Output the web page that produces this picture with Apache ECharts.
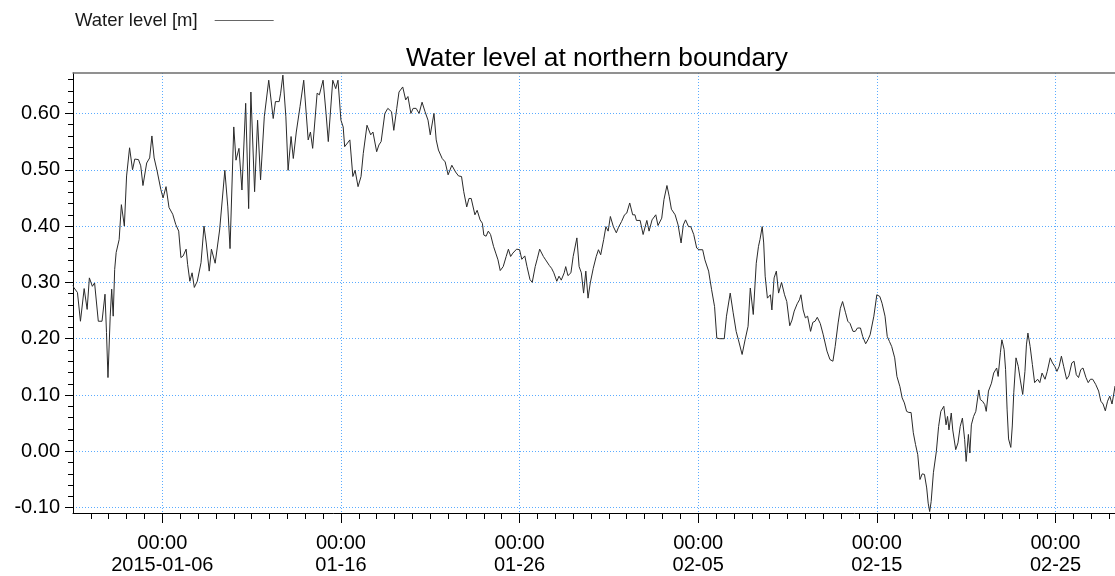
<!DOCTYPE html>
<html>
<head>
<meta charset="utf-8">
<title>Water level at northern boundary</title>
<script src="https://cdn.jsdelivr.net/npm/echarts@6/dist/echarts.min.js"></script>
<style>
  html, body { margin: 0; padding: 0; background: #ffffff; }
  #chart { width: 1115px; height: 576px; }
</style>
</head>
<body>
<div id="chart"></div>
<script>
// Hours since 2015-01-01 00:00 (local time) for each reading
const sampleHours = [
  0, 1, 6, 10, 15, 19, 22, 26, 29, 34,
  39, 43, 45, 47, 50, 52, 54, 56, 58, 62,
  65, 69, 72, 76, 80, 83, 88, 91, 94, 99,
  103, 106, 109, 113, 118, 121, 125, 129, 134, 138,
  142, 145, 148, 152, 154, 157, 160, 163, 167, 172,
  176, 179, 183, 186, 191, 197, 204, 208, 211, 216,
  219, 223, 227, 232, 236, 239, 244, 248, 252, 257,
  263, 269, 272, 277, 279, 282, 286, 289, 293, 296,
  300, 305, 310, 316, 319, 322, 328, 331, 336, 340,
  343, 349, 353, 356, 360, 363, 365, 372, 376, 379,
  383, 387, 390, 395, 400, 403, 408, 411, 414, 419,
  423, 428, 431, 435, 438, 440, 443, 447, 450, 454,
  457, 461, 465, 469, 473, 477, 480, 485, 488, 491,
  496, 500, 504, 509, 514, 518, 522, 525, 529, 532,
  535, 540, 543, 547, 550, 552, 555, 558, 561, 565,
  568, 571, 574, 578, 582, 585, 588, 591, 596, 600,
  603, 607, 610, 614, 617, 621, 624, 627, 632, 635,
  640, 643, 646, 650, 653, 656, 660, 662, 665, 669,
  672, 677, 680, 683, 686, 689, 692, 695, 699, 703,
  706, 709, 713, 716, 719, 722, 726, 730, 733, 737,
  741, 744, 748, 752, 755, 757, 762, 766, 771, 774,
  778, 783, 786, 791, 794, 798, 801, 804, 809, 813,
  817, 820, 823, 827, 830, 834, 838, 841, 846, 849,
  854, 858, 862, 865, 869, 875, 878, 883, 887, 891,
  894, 899, 903, 907, 910, 914, 918, 921, 923, 926,
  928, 930, 933, 937, 939, 942, 945, 948, 952, 956,
  959, 963, 966, 969, 973, 976, 978, 981, 984, 987,
  991, 994, 997, 1000, 1004, 1008, 1013, 1017, 1021, 1024,
  1028, 1031, 1034, 1038, 1041, 1044, 1048, 1051, 1054, 1058,
  1061, 1065, 1068, 1071, 1076, 1080, 1084, 1087, 1091, 1094,
  1097, 1100, 1104, 1107, 1111, 1114, 1117, 1120, 1123, 1126,
  1129, 1132, 1135, 1138, 1141, 1144, 1147, 1149, 1151, 1153,
  1156, 1160, 1163, 1166, 1170, 1173, 1175, 1177, 1180, 1182,
  1186, 1189, 1192, 1195, 1198, 1200, 1203, 1205, 1207, 1210,
  1213, 1217, 1219, 1222, 1225, 1227, 1230, 1234, 1237, 1241,
  1243, 1246, 1248, 1251, 1253, 1255, 1257, 1260, 1262, 1264,
  1267, 1270, 1273, 1276, 1279, 1281, 1283, 1286, 1289, 1292,
  1296, 1299, 1302, 1306, 1309, 1313, 1316, 1319, 1322, 1325,
  1328, 1331, 1335, 1338, 1342, 1345, 1348, 1351, 1354, 1357,
  1361, 1364, 1367, 1370, 1374, 1378, 1381, 1384, 1387, 1390,
  1393, 1396, 1399, 1400
];

// Water level [m] at each reading
const waterLevel = [
  0.295, 0.291, 0.282, 0.231, 0.289, 0.252, 0.308, 0.293, 0.299, 0.231,
  0.231, 0.279, 0.211, 0.131, 0.240, 0.288, 0.240, 0.323, 0.353, 0.376,
  0.438, 0.400, 0.489, 0.539, 0.500, 0.519, 0.518, 0.507, 0.472, 0.512,
  0.521, 0.560, 0.521, 0.498, 0.465, 0.450, 0.470, 0.433, 0.421, 0.403,
  0.391, 0.344, 0.347, 0.359, 0.332, 0.302, 0.317, 0.291, 0.302, 0.335,
  0.400, 0.370, 0.320, 0.359, 0.334, 0.393, 0.499, 0.434, 0.360, 0.576,
  0.517, 0.538, 0.464, 0.618, 0.431, 0.638, 0.461, 0.588, 0.482, 0.594,
  0.659, 0.591, 0.621, 0.621, 0.636, 0.668, 0.594, 0.499, 0.559, 0.520,
  0.567, 0.612, 0.659, 0.553, 0.567, 0.538, 0.636, 0.633, 0.659, 0.600,
  0.550, 0.659, 0.644, 0.659, 0.588, 0.576, 0.541, 0.553, 0.488, 0.499,
  0.470, 0.488, 0.529, 0.579, 0.562, 0.567, 0.532, 0.544, 0.550, 0.600,
  0.609, 0.603, 0.570, 0.609, 0.638, 0.640, 0.647, 0.624, 0.630, 0.600,
  0.609, 0.609, 0.600, 0.620, 0.603, 0.588, 0.562, 0.600, 0.553, 0.535,
  0.520, 0.514, 0.491, 0.508, 0.496, 0.489, 0.488, 0.461, 0.434, 0.449,
  0.449, 0.420, 0.428, 0.411, 0.405, 0.384, 0.382, 0.391, 0.385, 0.364,
  0.352, 0.340, 0.321, 0.328, 0.346, 0.359, 0.346, 0.352, 0.359, 0.358,
  0.341, 0.347, 0.328, 0.305, 0.300, 0.328, 0.343, 0.359, 0.346, 0.340,
  0.330, 0.325, 0.317, 0.302, 0.311, 0.304, 0.317, 0.328, 0.312, 0.317,
  0.346, 0.379, 0.328, 0.317, 0.281, 0.320, 0.272, 0.299, 0.325, 0.346,
  0.358, 0.349, 0.376, 0.399, 0.391, 0.417, 0.399, 0.388, 0.398, 0.408,
  0.420, 0.423, 0.441, 0.420, 0.420, 0.410, 0.410, 0.385, 0.410, 0.391,
  0.411, 0.420, 0.401, 0.414, 0.447, 0.472, 0.453, 0.430, 0.420, 0.402,
  0.370, 0.402, 0.411, 0.399, 0.399, 0.385, 0.361, 0.358, 0.358, 0.340,
  0.320, 0.287, 0.257, 0.201, 0.200, 0.200, 0.240, 0.281, 0.246, 0.213,
  0.198, 0.172, 0.198, 0.222, 0.290, 0.243, 0.334, 0.364, 0.376, 0.399,
  0.370, 0.311, 0.272, 0.278, 0.251, 0.308, 0.320, 0.281, 0.300, 0.278,
  0.266, 0.223, 0.233, 0.249, 0.262, 0.269, 0.278, 0.251, 0.237, 0.240,
  0.213, 0.229, 0.231, 0.238, 0.227, 0.207, 0.178, 0.163, 0.160, 0.186,
  0.228, 0.254, 0.266, 0.246, 0.231, 0.227, 0.213, 0.213, 0.219, 0.219,
  0.204, 0.191, 0.198, 0.207, 0.240, 0.278, 0.275, 0.263, 0.240, 0.204,
  0.195, 0.186, 0.166, 0.133, 0.115, 0.095, 0.086, 0.071, 0.069, 0.069,
  0.033, 0.012, -0.006, -0.050, -0.040, -0.041, -0.065, -0.092, -0.107, -0.089,
  -0.038, 0.000, 0.044, 0.071, 0.080, 0.047, 0.062, 0.038, 0.068, 0.038,
  0.003, 0.015, 0.044, 0.059, 0.021, -0.018, 0.030, -0.003, 0.047, 0.062,
  0.071, 0.109, 0.092, 0.089, 0.083, 0.071, 0.107, 0.121, 0.139, 0.148,
  0.133, 0.175, 0.198, 0.181, 0.145, 0.075, 0.022, 0.007, 0.045, 0.104,
  0.166, 0.151, 0.125, 0.101, 0.142, 0.189, 0.210, 0.186, 0.154, 0.122,
  0.128, 0.122, 0.139, 0.128, 0.142, 0.166, 0.157, 0.151, 0.142, 0.151,
  0.169, 0.151, 0.128, 0.134, 0.157, 0.160, 0.136, 0.131, 0.145, 0.148,
  0.131, 0.122, 0.128, 0.128, 0.119, 0.107, 0.089, 0.084, 0.072, 0.089,
  0.098, 0.084, 0.107, 0.116
];

// Labelled time ticks and value ticks
const majorTickDates = ['2015-01-06', '2015-01-16', '2015-01-26', '2015-02-05', '2015-02-15', '2015-02-25'];
const yTickValues = [-0.1, 0, 0.1, 0.2, 0.3, 0.4, 0.5, 0.6];

const FONT = '"Liberation Sans", Arial, Helvetica, sans-serif';
const HOUR = 3600 * 1000;
const DAY = 24 * HOUR;

const startTime = new Date(2015, 0, 1, 0, 0, 0).getTime();
const times = sampleHours.map(h => startTime + h * HOUR);
const xMin = startTime;
const xMax = times[times.length - 1];
const yMin = -0.1095;
const yMax = 0.6718;

const majorTicks = majorTickDates.map(s => {
  const [y, m, d] = s.split('-').map(Number);
  return new Date(y, m - 1, d).getTime();
});

// one small tick per day, and one per 0.02 m
const dayTicks = [];
for (let d = 1; startTime + d * DAY <= xMax; d++) dayTicks.push(new Date(2015, 0, 1 + d).getTime());
const yMinorTicks = [];
for (let k = -5; k <= 33; k++) yMinorTicks.push(Math.round(k * 2) / 100);

const pad = n => String(n).padStart(2, '0');
function timeLabel(v) {
  const d = new Date(v);
  const hm = pad(d.getHours()) + ':' + pad(d.getMinutes());
  const md = pad(d.getMonth() + 1) + '-' + pad(d.getDate());
  return hm + '\n' + (Math.abs(v - majorTicks[0]) < 1000 ? d.getFullYear() + '-' + md : md);
}

const gridLine = { show: true, lineStyle: { color: '#5aabff', width: 1, type: [1, 2] } };

const chart = echarts.init(document.getElementById('chart'));
chart.setOption({
  animation: false,
  backgroundColor: '#ffffff',
  textStyle: { fontFamily: FONT },
  title: {
    text: 'Water level at northern boundary',
    left: 592,
    top: 41,
    textAlign: 'center',
    textStyle: { fontFamily: FONT, fontSize: 26.3, fontWeight: 'normal', color: '#000' }
  },
  legend: {
    left: 75,
    top: 11,
    padding: 0,
    align: 'right',
    icon: 'rect',
    itemWidth: 59,
    itemHeight: 1,
    itemStyle: { color: '#666', borderWidth: 0 },
    textStyle: { fontFamily: FONT, fontSize: 18.5, color: '#1a1a1a', padding: [0, 12, 0, 0] }
  },
  grid: { left: 73, right: 0, top: 73, bottom: 62, containLabel: false },
  xAxis: [
    {
      type: 'value',
      position: 'bottom',
      min: xMin,
      max: xMax,
      axisLine: { show: true, onZero: false, lineStyle: { color: '#000', width: 1 } },
      axisTick: { show: true, customValues: majorTicks, length: 10, lineStyle: { color: '#000' } },
      axisLabel: {
        customValues: majorTicks,
        formatter: timeLabel,
        fontFamily: FONT,
        fontSize: 20,
        lineHeight: 22,
        color: '#000',
        margin: 19,
        hideOverlap: false
      },
      splitLine: gridLine
    },
    {
      type: 'value',
      position: 'bottom',
      min: xMin,
      max: xMax,
      axisLine: { show: false, onZero: false },
      axisTick: { show: true, customValues: dayTicks, length: 6, lineStyle: { color: '#000' } },
      axisLabel: { show: false },
      splitLine: { show: false }
    },
    {
      type: 'value',
      position: 'top',
      min: xMin,
      max: xMax,
      axisLine: { show: true, onZero: false, lineStyle: { color: '#6e6e6e', width: 1.5 } },
      axisTick: { show: false },
      axisLabel: { show: false },
      splitLine: { show: false }
    }
  ],
  yAxis: [
    {
      type: 'value',
      position: 'left',
      min: yMin,
      max: yMax,
      axisLine: { show: true, onZero: false, lineStyle: { color: '#000', width: 1 } },
      axisTick: { show: true, customValues: yTickValues, length: 8, lineStyle: { color: '#000' } },
      axisLabel: {
        customValues: yTickValues,
        formatter: v => v.toFixed(2),
        fontFamily: FONT,
        fontSize: 20,
        color: '#000',
        margin: 13
      },
      splitLine: gridLine
    },
    {
      type: 'value',
      position: 'left',
      min: yMin,
      max: yMax,
      axisLine: { show: false, onZero: false },
      axisTick: { show: true, customValues: yMinorTicks, length: 5, lineStyle: { color: '#000' } },
      axisLabel: { show: false },
      splitLine: { show: false }
    }
  ],
  series: [
    {
      name: 'Water level [m]',
      type: 'line',
      xAxisIndex: 0,
      yAxisIndex: 0,
      data: times.map((t, i) => [t, waterLevel[i]]),
      showSymbol: false,
      symbol: 'none',
      lineStyle: { color: '#2a2a2a', width: 1 },
      itemStyle: { color: '#2a2a2a' },
      clip: true
    }
  ]
});
</script>
</body>
</html>
